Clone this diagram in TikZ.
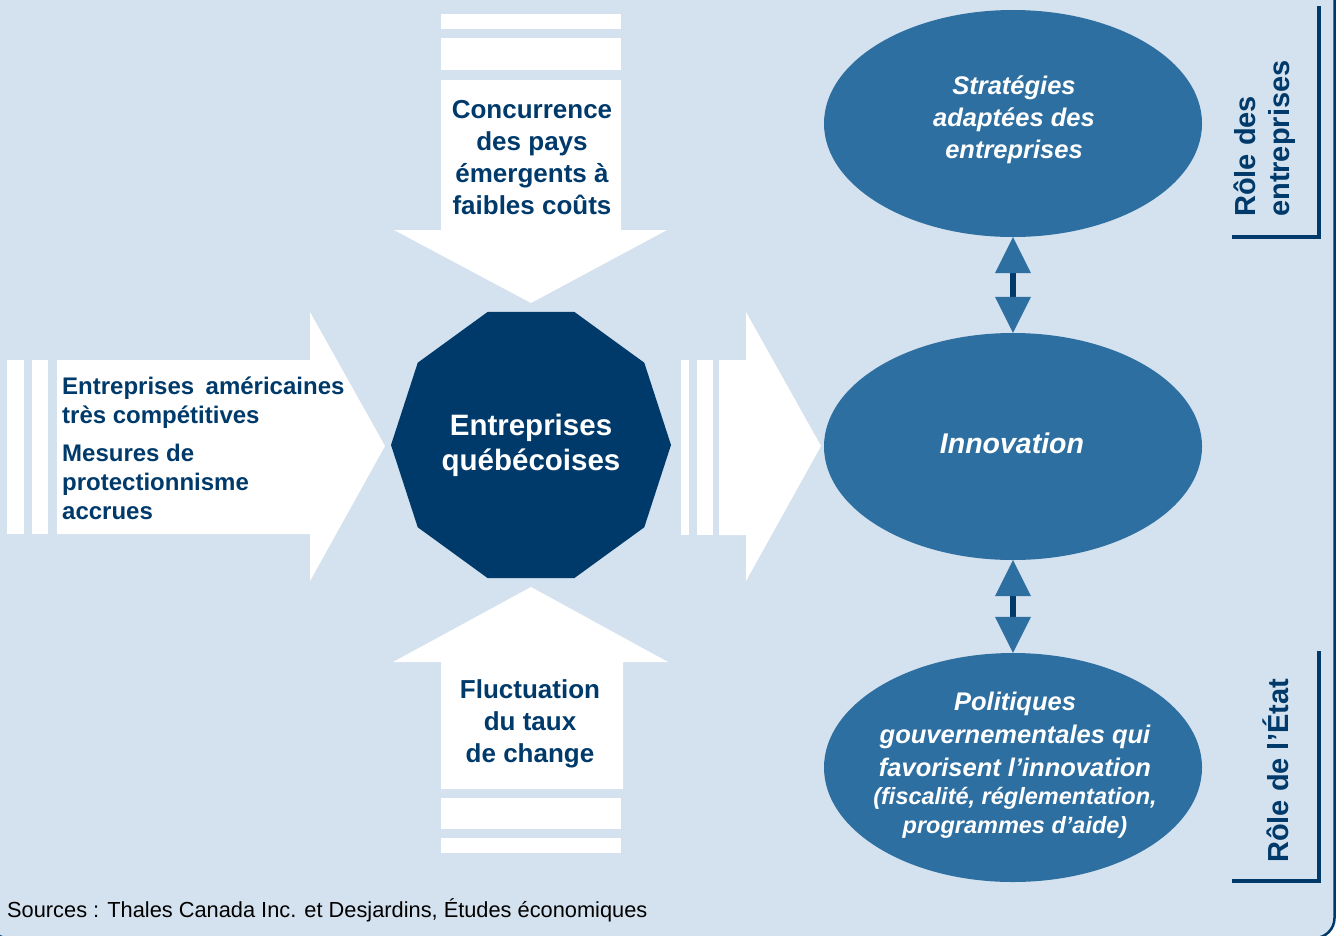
\documentclass[tikz,border=0pt]{standalone}
\usepackage{fontspec}
\setmainfont{Liberation Sans}
\usetikzlibrary{shapes.geometric,arrows.meta}
\definecolor{bg}{HTML}{D4E1EE}
\definecolor{midb}{HTML}{2E6FA1}
\definecolor{navy}{HTML}{003A6B}
\newcommand\myfs[2]{\fontsize{#1bp}{#2bp}\selectfont}
\begin{document}
\begin{tikzpicture}[x=1bp,y=-1bp,
  bigarrow/.style={fill=white, draw=none},
  navytxt/.style={text=navy, font=\bfseries, inner sep=0pt},
  whitetxt/.style={text=white, inner sep=0pt},
  oval/.style={ellipse, fill=midb, minimum width=378bp, inner sep=0pt},
  dbl/.style={draw=navy, line width=6bp,
    {Triangle[width=36bp,length=36bp,line width=0pt,color=midb,fill=midb]}-{Triangle[width=36bp,length=36bp,line width=0pt,color=midb,fill=midb]}},
  bracket/.style={draw=navy, line width=4bp}
]
\useasboundingbox (0,0) rectangle (1336,935);
\fill[white] (0,0) rectangle (1336,935);
\filldraw[fill=bg, draw=navy, line width=2.5bp, rounded corners=20bp] (-12,-30) rectangle (1334.5,938);

% top arrow
\fill[bigarrow] (441,14) rectangle (621,29);
\fill[bigarrow] (441,38) rectangle (621,70);
\fill[bigarrow] (441,80) -- (621,80) -- (621,230) -- (667,230) -- (531,303) -- (394,230) -- (441,230) -- cycle;
% bottom arrow
\fill[bigarrow] (531,587) -- (668,662) -- (623,662) -- (623,789) -- (441,789) -- (441,662) -- (393,662) -- cycle;
\fill[bigarrow] (441,798) rectangle (621,829);
\fill[bigarrow] (441,838) rectangle (621,853);
% left arrow
\fill[bigarrow] (7,360) rectangle (24,534);
\fill[bigarrow] (32,360) rectangle (48,534);
\fill[bigarrow] (57,360) -- (310,360) -- (310,312) -- (385,446) -- (310,581) -- (310,534) -- (57,534) -- cycle;
% right arrow
\fill[bigarrow] (681,360) rectangle (689,535);
\fill[bigarrow] (697,360) rectangle (713,535);
\fill[bigarrow] (719,360) -- (746,360) -- (746,312) -- (821,446) -- (746,581) -- (746,535) -- (719,535) -- cycle;

% central decagon
\node[regular polygon, regular polygon sides=10, minimum size=280bp, inner sep=0pt, fill=navy,
      text=white, font=\myfs{29.5}{35}\bfseries, align=center] (qc) at (531,445) {Entreprises\\québécoises};

% texts in arrows
\node[navytxt, font=\myfs{26}{32}\bfseries, align=center] (conc) at (532,158)
  {Concurrence\\des pays\\émergents à\\faibles coûts};
\node[navytxt, font=\myfs{24}{29}\bfseries, align=left, anchor=west] (us) at (62,448)
  {Entreprises\hspace{0.2em} américaines\\très compétitives\\[9bp]Mesures de\\protectionnisme\\accrues};
\node[navytxt, font=\myfs{26}{32}\bfseries, align=center] (fluct) at (530,724)
  {Fluctuation\\du taux\\de change};

% ellipses
\node[oval, minimum height=227bp] (strat) at (1013,123.5) {};
\node[oval, minimum height=227bp] (innov) at (1013,446.5) {};
\node[oval, minimum height=229bp] (polit) at (1013,767.5) {};

\node[whitetxt, font=\myfs{25.5}{32}\bfseries\itshape, align=center] (strattxt) at (1014,120)
  {Stratégies\\adaptées des\\entreprises};
\node[whitetxt, font=\myfs{28.5}{34}\bfseries\itshape] (innovtxt) at (1012,443) {Innovation};
\node[whitetxt, font=\myfs{25.5}{33}\bfseries\itshape, align=center] (polittxt) at (1015,734)
  {Politiques\\gouvernementales qui\\favorisent l’innovation};
\node[whitetxt, font=\myfs{23.5}{29}\bfseries\itshape, align=center] (polit2) at (1015,813)
  {(fiscalité, réglementation,\\programmes d’aide)};

% double arrows
\draw[dbl] (strat.south) -- (innov.north);
\draw[dbl] (innov.south) -- (polit.north);

% brackets and role labels
\draw[bracket] (1319,6) -- (1319,237) -- (1232,237);
\draw[bracket] (1319,651) -- (1319,881) -- (1232,881);
\node[navytxt, font=\myfs{29}{34}\bfseries, rotate=90, anchor=base west] (role1) at (1255,217) {Rôle des};
\node[navytxt, font=\myfs{29}{34}\bfseries, rotate=90, anchor=base west] (role2) at (1289,217) {entreprises};
\node[navytxt, font=\myfs{29}{34}\bfseries, rotate=90, anchor=base west] (role3) at (1288,863) {Rôle de l’État};

% source
\node[inner sep=0pt, anchor=west, font=\myfs{21.8}{26}] (src) at (7,910)
  {Sources : Thales Canada Inc. et Desjardins, Études économiques};
\end{tikzpicture}
\end{document}
